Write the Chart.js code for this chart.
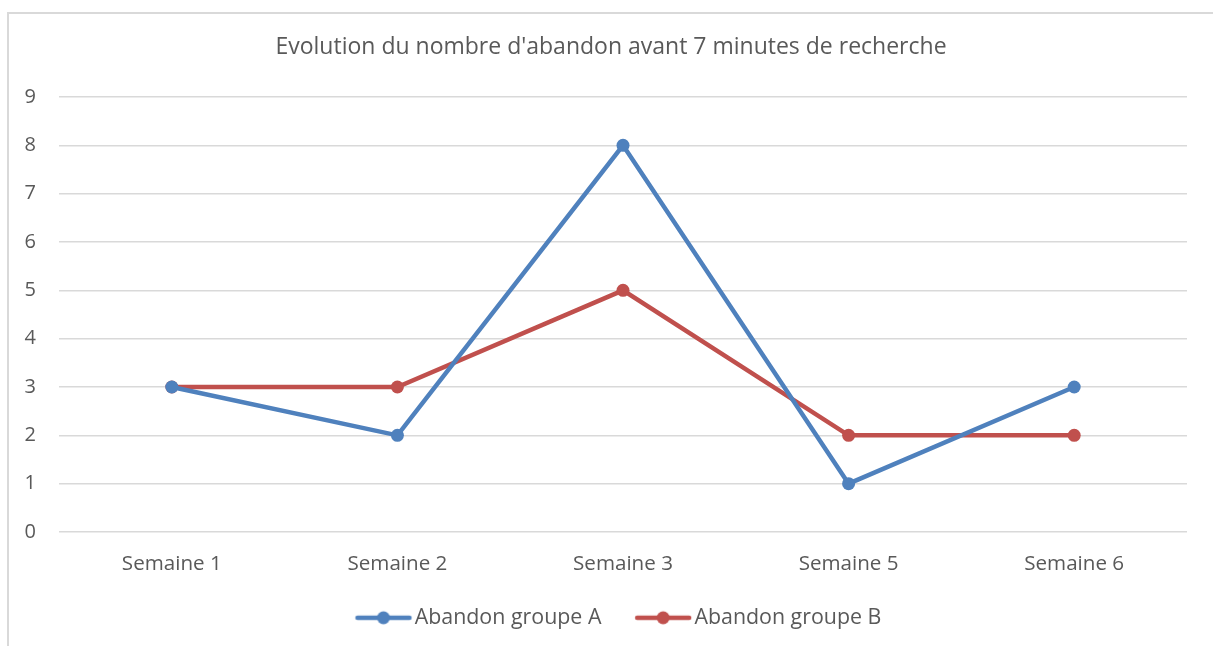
<!DOCTYPE html>
<html>
<head>
<meta charset="utf-8">
<script src="https://cdn.jsdelivr.net/npm/chart.js@4/dist/chart.umd.min.js"></script>
<style>
    html, body { margin: 0; padding: 0; background: #fff; overflow: hidden; }
    #frame {
        position: absolute; left: 7px; top: 12px;
        width: 1300px; height: 700px;
        border: 2px solid #d9d9d9;
    }
    #wrap { position: absolute; left: 0; top: 0; width: 1213px; height: 646px; }
</style>
</head>
<body>
<div id="frame"></div>
<div id="wrap"><canvas id="chart"></canvas></div>
<script>
// Chart data
const TITLE = "Evolution du nombre d'abandon avant 7 minutes de recherche";
const weeks = ['Semaine 1', 'Semaine 2', 'Semaine 3', 'Semaine 5', 'Semaine 6'];
const groupA = [3, 2, 8, 1, 3];
const groupB = [3, 3, 5, 2, 2];
const yTicks = [0, 1, 2, 3, 4, 5, 6, 7, 8, 9];

const BLUE = '#4f81bd';
const RED = '#c0504d';
const TEXT = '#595959';
const FONT = '"Open Sans", Lato, sans-serif';

// Legend marker: line with a dot in the middle
function legendMarker(color) {
    const c = document.createElement('canvas');
    c.width = 60;
    c.height = 16;
    const g = c.getContext('2d');
    g.strokeStyle = color;
    g.lineWidth = 4.5;
    g.lineCap = 'round';
    g.beginPath();
    g.moveTo(4, 8);
    g.lineTo(56, 8);
    g.stroke();
    g.fillStyle = color;
    g.beginPath();
    g.arc(30, 8, 6.5, 0, Math.PI * 2);
    g.fill();
    return c;
}

const markers = [legendMarker(BLUE), legendMarker(RED)];

function makeDataset(label, data, color) {
    return {
        label: label,
        data: data,
        borderColor: color,
        backgroundColor: color,
        borderWidth: 4.5,
        pointRadius: 6.5,
        pointHoverRadius: 6.5,
        pointBorderWidth: 0,
        pointStyle: 'circle',
        tension: 0
    };
}

// Title and legend are centred a bit right of the plot, like the original
const shiftBoxes = {
    id: 'shiftBoxes',
    afterLayout(chart) {
        chart.titleBlock.left = 35;
        chart.legend.left = 57.4;
    }
};

new Chart(document.getElementById('chart'), {
    type: 'line',
    data: {
        labels: weeks,
        datasets: [
            makeDataset('Abandon groupe A', groupA, BLUE),
            makeDataset('Abandon groupe B', groupB, RED)
        ]
    },
    plugins: [shiftBoxes],
    options: {
        responsive: true,
        maintainAspectRatio: false,
        animation: false,
        layout: { padding: { left: 0, right: 26, top: 0, bottom: 7.5 } },
        plugins: {
            title: {
                display: true,
                text: TITLE,
                color: TEXT,
                font: { family: FONT, size: 23, weight: 'normal' },
                padding: { top: 33.2, bottom: 36.2 }
            },
            legend: {
                position: 'bottom',
                labels: {
                    color: TEXT,
                    font: { family: FONT, size: 21.4 },
                    usePointStyle: true,
                    pointStyleWidth: 41,
                    boxHeight: 16,
                    padding: 27,
                    generateLabels: (chart) => {
                        const items = Chart.defaults.plugins.legend.labels.generateLabels(chart);
                        items.forEach((it, i) => { it.pointStyle = markers[i]; });
                        // extra room between the two entries
                        items[0].text += '\u2002\u2009';
                        return items;
                    }
                }
            },
            tooltip: { enabled: false }
        },
        scales: {
            x: {
                offset: true,
                grid: { display: false },
                border: { display: false },
                ticks: {
                    color: TEXT,
                    font: { family: FONT, size: 20.6 },
                    padding: 11.5
                },
                afterFit: (scale) => { scale.height = 48.1; }
            },
            y: {
                min: 0,
                max: 9,
                afterBuildTicks: (scale) => {
                    scale.ticks = yTicks.map(v => ({ value: v }));
                },
                grid: { color: '#d9d9d9', lineWidth: 1.5, drawTicks: false },
                border: { display: false },
                ticks: {
                    color: TEXT,
                    font: { family: FONT, size: 20 },
                    padding: 23
                },
                afterFit: (scale) => { scale.width = 59; }
            }
        }
    }
});
</script>
</body>
</html>
